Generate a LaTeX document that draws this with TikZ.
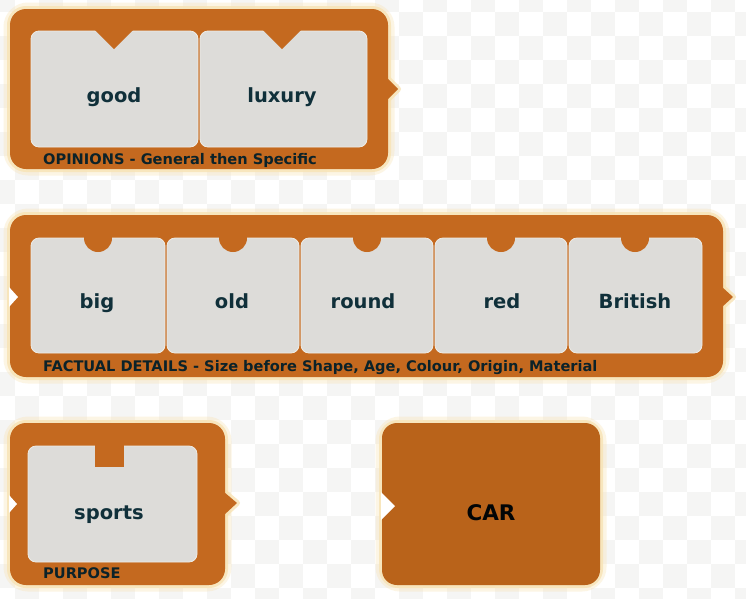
\documentclass[tikz,border=0pt]{standalone}
\usepackage{fontspec}
\setmainfont{DejaVu Sans}
\definecolor{bgwhite}{HTML}{FFFFFF}
\definecolor{bggray}{HTML}{F5F5F4}
\definecolor{frame}{HTML}{C4691F}
\definecolor{carfill}{HTML}{B9631A}
\definecolor{card}{HTML}{DDDCD9}
\definecolor{cardedge}{HTML}{EEECE6}
\definecolor{ink}{HTML}{10303A}
\definecolor{glow}{HTML}{F8E3B4}
\tikzset{
  glowwide/.style={draw=glow, line width=13pt, opacity=0.35, rounded corners=18pt, line join=round},
  glowline/.style={draw=glow, line width=6pt, opacity=0.8, rounded corners=16pt, line join=round},
  framebox/.style={fill=frame, rounded corners=16pt},
  cardbox/.style={fill=card, draw=cardedge, line width=0.8pt, rounded corners=8pt},
  notchfill/.style={fill=frame},
  word/.style={anchor=base, text=ink, inner sep=0pt, font=\fontsize{19.5}{19.5}\selectfont\bfseries},
  tag/.style={anchor=base west, text=ink!70!black, inner sep=0pt, font=\fontsize{14.6}{14.6}\selectfont\bfseries},
}
\newcommand{\glowbox}[4]{%
  \draw[glowwide] (#1,#2) rectangle (#3,#4);
  \draw[glowline] (#1,#2) rectangle (#3,#4);}
\begin{document}
\begin{tikzpicture}[x=1pt,y=-1pt]
\useasboundingbox (0,0) rectangle (746,598);
% ---------- checkered background ----------
\begin{scope}
\clip (0,0) rectangle (746,598);
\fill[bgwhite] (0,0) rectangle (746,598);
\foreach \j in {0,...,25}{
  \pgfmathtruncatemacro\off{mod(\j,2)}
  \foreach \i in {0,2,...,32}{
    \fill[bggray] ({-9+24*(\i+\off)},{-12+24*\j}) rectangle ++(24,24);
  }
}
\end{scope}
% ---------- glows ----------
\glowbox{10}{9}{388}{169}
\draw[glowline, rounded corners=0pt] (387,78) -- (398,89) -- (387,100);
\glowbox{10}{215}{723}{377}
\draw[glowline, rounded corners=0pt] (722,287) -- (733,297) -- (722,307);
\glowbox{10}{423}{225}{585}
\draw[glowline, rounded corners=0pt] (224,492) -- (237,503) -- (224,515);
\glowbox{382}{423}{600}{585}
% ---------- frame 1: opinions ----------
\fill[framebox] (10,9) rectangle (388,169);
\fill[frame] (387,78) -- (398,89) -- (387,100) -- cycle;
\draw[cardbox] (31,31) rectangle (198,147);
\draw[cardbox] (200,31) rectangle (367,147);
\fill[notchfill] (95,30) -- (114,49) -- (133,30) -- cycle;
\fill[notchfill] (263,30) -- (282,49) -- (301,30) -- cycle;
\node[word] (good) at (114,102) {good};
\node[word] (luxury) at (282,102) {luxury};
\node[tag] (opinions) at (43,164) {OPINIONS - General then Specific};
% ---------- frame 2: factual details ----------
\fill[framebox] (10,215) rectangle (723,377);
\fill[frame] (722,287) -- (733,297) -- (722,307) -- cycle;
\fill[bgwhite] (9,287) -- (18,297) -- (9,307) -- cycle;
\draw[cardbox] (31,238) rectangle (165,353);
\draw[cardbox] (167,238) rectangle (299,353);
\draw[cardbox] (301,238) rectangle (433,353);
\draw[cardbox] (435,238) rectangle (567,353);
\draw[cardbox] (569,238) rectangle (702,353);
\foreach \cx in {98,233,367,501,635}{
  \fill[notchfill] (\cx,238) circle[radius=14pt];
}
\node[word] (big) at (97,308) {big};
\node[word] (old) at (232,308) {old};
\node[word] (round) at (363,308) {round};
\node[word] (red) at (502,308) {red};
\node[word] (british) at (635,308) {British};
\node[tag] (factual) at (43,371) {FACTUAL DETAILS - Size before Shape, Age, Colour, Origin, Material};
% ---------- frame 3: purpose ----------
\fill[framebox] (10,423) rectangle (225,585);
\fill[frame] (224,492) -- (237,503) -- (224,515) -- cycle;
\fill[bgwhite] (9,495) -- (17,504) -- (9,513) -- cycle;
\draw[cardbox] (28,446) rectangle (197,562);
\fill[notchfill] (95,444) rectangle (124,467);
\node[word] (sports) at (109,519) {sports};
\node[tag] (purpose) at (43,578) {PURPOSE};
% ---------- car block ----------
\fill[carfill, rounded corners=15pt] (382,423) rectangle (600,585);
\fill[bgwhite] (381,492) -- (395,506) -- (381,520) -- cycle;
\node[anchor=base, text=black!90!ink, inner sep=0pt, font=\fontsize{21.5}{21.5}\selectfont\bfseries] (car) at (491,520) {CAR};
\end{tikzpicture}
\end{document}
